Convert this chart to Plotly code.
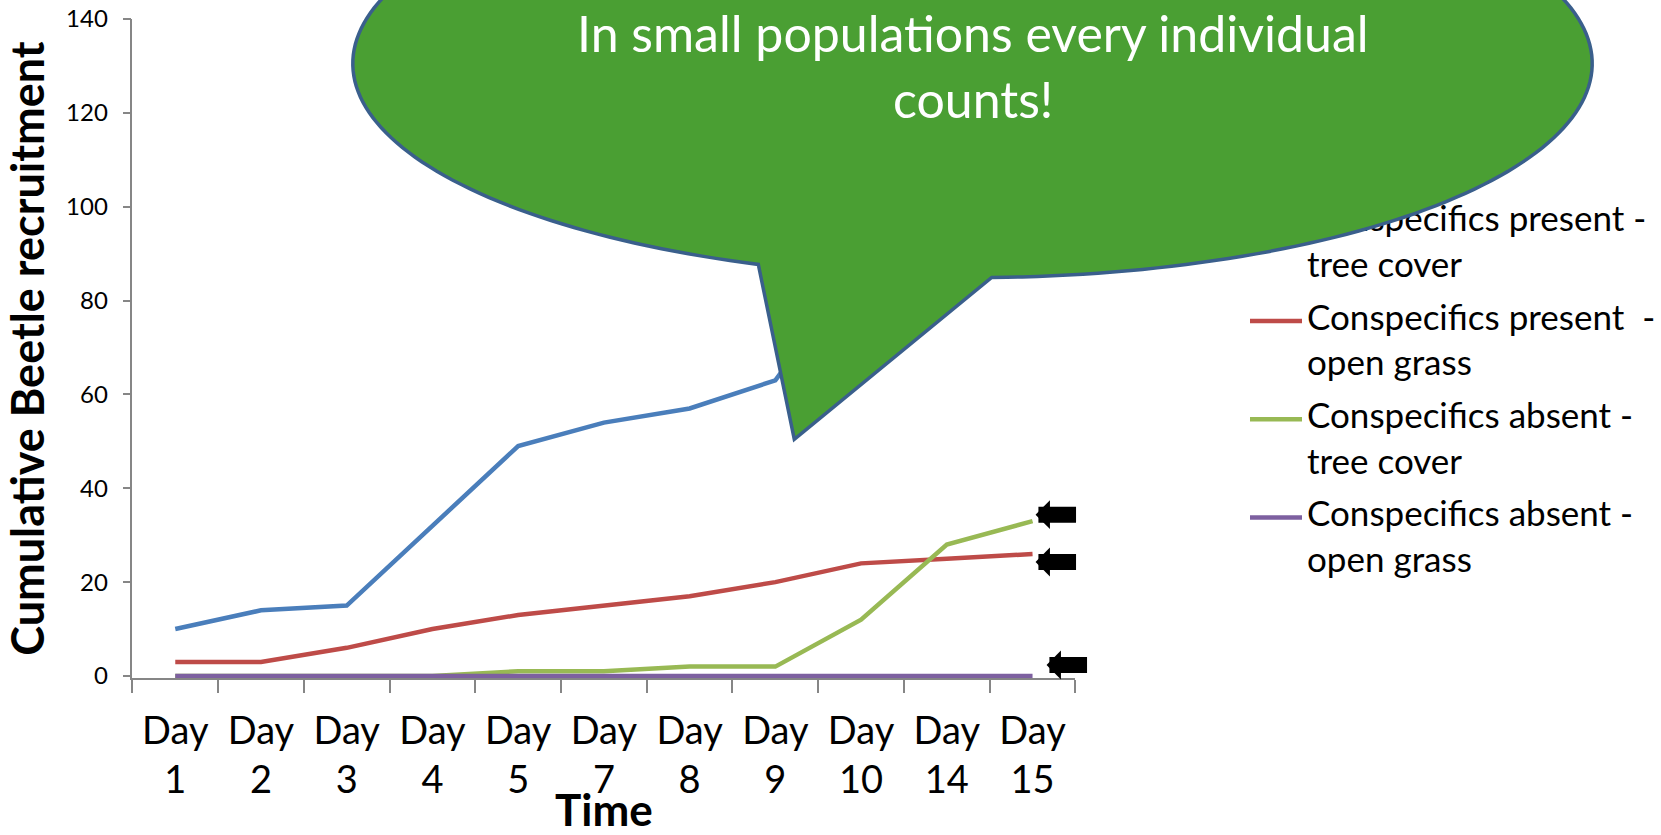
import numpy as np
import plotly.graph_objects as go

# ---------------- data ----------------
days = ["Day 1", "Day 2", "Day 3", "Day 4", "Day 5", "Day 7", "Day 8",
        "Day 9", "Day 10", "Day 14", "Day 15"]
present_tree = [10, 14, 15, 32, 49, 54, 57, 63, 88, 118, 128]
present_grass = [3, 3, 6, 10, 13, 15, 17, 20, 24, 25, 26]
absent_tree = [0, 0, 0, 0, 1, 1, 2, 2, 12, 28, 33]
absent_grass = [0, 0, 0, 0, 0, 0, 0, 0, 0, 0, 0]
series_names = ["Conspecifics present -<br>tree cover",
                "Conspecifics present  -<br>open grass",
                "Conspecifics absent -<br>tree cover",
                "Conspecifics absent -<br>open grass"]
series_colors = ["#4A7EBB", "#BE4B48", "#98B954", "#7D60A0"]
y_ticks = [0, 20, 40, 60, 80, 100, 120, 140]
tick_labels = [d.replace(" ", "<br>") for d in days]
x_title = "Time"
y_title = "Cumulative Beetle recruitment"
bubble_text = "In small populations every individual<br>counts!"

series = [present_tree, present_grass, absent_tree, absent_grass]

# ---------------- geometry (pixels, origin top-left) ----------------
W, H = 1661, 835
PL, PR, PT = 132.4, 1075.4, 19.0
PX_PER_UNIT = (676.0 - PT) / 140.0
Y_PAD = 0.48                         # keeps the zero line fully visible
PB = 676.0 + Y_PAD * PX_PER_UNIT     # bottom edge of the plot area
FONT = "Lato, Carlito, 'Open Sans', sans-serif"

fig = go.Figure()
for vals, name, col in zip(series, series_names, series_colors):
    fig.add_trace(go.Scatter(x=days, y=vals, name=name, mode="lines",
                             line=dict(color=col, width=4.5),
                             showlegend=False, hoverinfo="x+y+name"))

# ---- legend (drawn by hand so the speech bubble can cover its first entry) ----
leg_x_text = 1307
leg_y0 = 222.7
leg_step = 98.3
leg_line_gap = 45.5
lx, ly, lt = [], [], []
for i, name in enumerate(series_names):
    for j, part in enumerate(name.split("<br>")):
        lx.append(leg_x_text)
        ly.append(leg_y0 + i * leg_step + j * leg_line_gap)
        lt.append(part)
fig.add_trace(go.Scatter(x=lx, y=ly, text=lt, mode="text",
                         textposition="middle right",
                         textfont=dict(family=FONT, size=35, color="black"),
                         xaxis="x2", yaxis="y2", cliponaxis=False,
                         showlegend=False, hoverinfo="skip"))

shapes = []
for i, col in enumerate(series_colors):
    yy = leg_y0 + i * leg_step
    shapes.append(dict(type="line", xref="x2", yref="y2",
                       x0=1250, x1=1302, y0=yy, y1=yy,
                       line=dict(color=col, width=4.5), layer="above"))

# ---- speech bubble ----
cx, cy, rx, ry = 972.5, 63.6, 619.7, 214.0
tip = (794.3, 439.3)
t_start = np.degrees(np.arccos((991.7 - cx) / rx))
t_end = np.degrees(np.arccos((758.3 - cx) / rx)) - 360.0
ts = np.radians(np.linspace(t_start, t_end, 240))
pts = [(cx + rx * np.cos(t), cy + ry * np.sin(t)) for t in ts]
pts.append(tip)
path = "M " + " L ".join(f"{a:.2f},{b:.2f}" for a, b in pts) + " Z"
shapes.append(dict(type="path", xref="x2", yref="y2", path=path,
                   fillcolor="#4A9F33", line=dict(color="#3A5F8C", width=3.5),
                   layer="above"))

# ---- annotations ----
annotations = []
for k, line in enumerate(bubble_text.split("<br>")):
    annotations.append(dict(x=972.5, y=[32.5, 98.5][k], xref="x2", yref="y2",
                            text=line, showarrow=False, xanchor="center",
                            yanchor="middle",
                            font=dict(family=FONT, size=50, color="white")))

annotations.append(dict(x=(PL + PR) / 2, y=809.0, xref="x2", yref="y2",
                        text=x_title, showarrow=False, xanchor="center",
                        yanchor="middle",
                        font=dict(family=FONT, size=44, color="black",
                                  weight=700)))

arrow_specs = [(2, 3, 6.5), (1, 3, -8), (3, 14, 11)]
for idx, xs, ys in arrow_specs:
    annotations.append(dict(x=days[-1], y=series[idx][-1], xref="x", yref="y",
                            text="", showarrow=True, arrowhead=1,
                            arrowsize=0.3, arrowwidth=16, arrowcolor="black",
                            ax=42, ay=0, standoff=0, xshift=xs, yshift=ys))

fig.update_layout(
    template="none",
    width=W, height=H,
    margin=dict(l=0, r=0, t=0, b=0, pad=0, autoexpand=False),
    paper_bgcolor="white", plot_bgcolor="rgba(0,0,0,0)",
    showlegend=False,
    shapes=shapes, annotations=annotations,
    font=dict(family=FONT, color="black"),
    xaxis=dict(domain=[PL / W, PR / W], anchor="y", automargin=False,
               type="category", categoryorder="array", categoryarray=days,
               range=[-0.5, len(days) - 0.5],
               tickmode="array", tickvals=days, ticktext=tick_labels,
               tickson="boundaries", ticks="outside", ticklen=13,
               tickcolor="#868686", tickwidth=1.5,
               showline=True, linecolor="#868686", linewidth=1.5,
               showgrid=False, zeroline=False, layer="below traces",
               tickfont=dict(family=FONT, size=38, color="black"),
               ticklabelstandoff=18),
    yaxis=dict(domain=[1 - PB / H, 1 - PT / H], anchor="x", automargin=False,
               range=[-Y_PAD, 140], tickmode="array", tickvals=y_ticks,
               ticks="outside", ticklen=8, tickcolor="#868686", tickwidth=1.5,
               showline=True, linecolor="#868686", linewidth=1.5,
               showgrid=False, zeroline=False, layer="below traces",
               tickfont=dict(family=FONT, size=24, color="black"),
               ticklabelstandoff=10,
               title=dict(text=y_title, standoff=12,
                          font=dict(family=FONT, size=45, color="black",
                                    weight=700))),
    xaxis2=dict(domain=[0, 1], anchor="y2", range=[0, W], visible=False,
                automargin=False),
    yaxis2=dict(domain=[0, 1], anchor="x2", range=[H, 0], visible=False,
                automargin=False),
)

fig.write_html("out.html",
               config={"displayModeBar": False},
               post_script="document.body.style.margin='0';"
                           "document.body.style.overflow='hidden';")
